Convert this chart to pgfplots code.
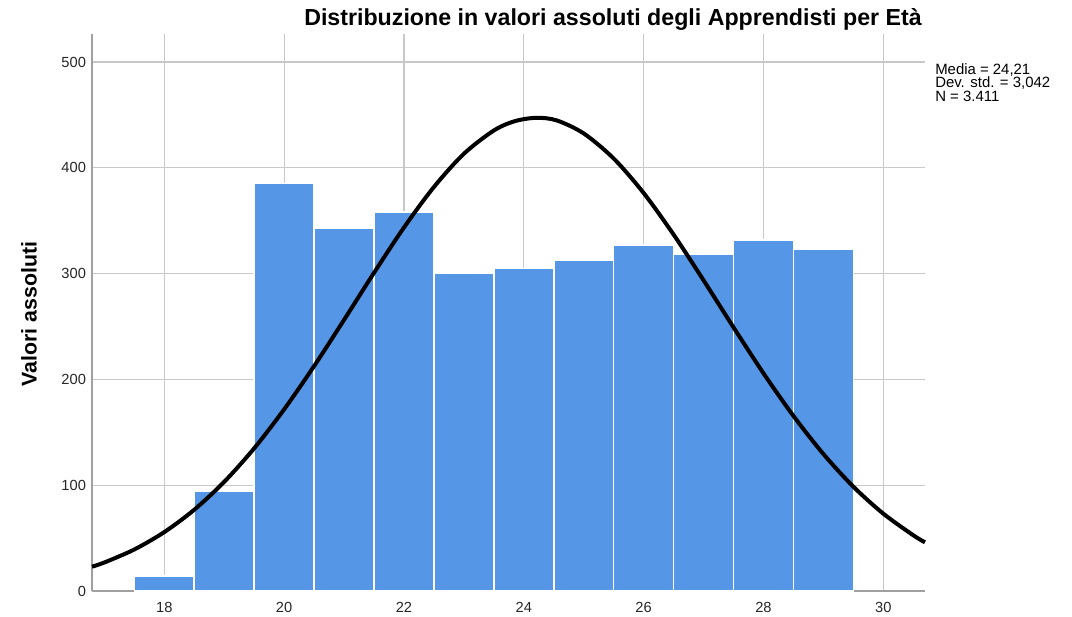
\documentclass[border=0pt]{standalone}
\usepackage{pgfplots}
\pgfplotsset{compat=1.18}
\usepackage{fontspec}
\setmainfont{Liberation Sans}
\definecolor{barblue}{RGB}{85,150,230}
\definecolor{gridgray}{RGB}{200,200,200}
\definecolor{axisgray}{RGB}{160,160,160}
\begin{document}
\begin{tikzpicture}
\path[use as bounding box] (-69pt,-19.5pt) rectangle (735pt,443.25pt);
\begin{axis}[
  at={(0,0)}, anchor=south west,
  scale only axis,
  width=624.75pt, height=417.75pt,
  xmin=16.793, xmax=30.696,
  ymin=0, ymax=526.5,
  xtick={18,20,...,30},
  ytick={0,100,...,500},
  grid=major,
  major grid style={gridgray, line width=0.8pt},
  axis x line*=bottom, axis y line*=left,
  axis line style={axisgray, line width=1.5pt, -},
  major tick length=0pt,
  /pgf/number format/assume math mode=true,
  ticklabel style={font=\fontsize{11}{13}\selectfont, text=black!85},
  xticklabel style={yshift=-5pt},
  yticklabel style={xshift=-1pt},
  every axis title shift=0pt,
  title={Distribuzione in valori assoluti degli Apprendisti per Età},
  title style={at={(0.9964,1.0144)}, anchor=base east, yshift=0pt, inner sep=0pt, font=\bfseries\fontsize{17.4}{20}\selectfont},
  ylabel={Valori assoluti},
  ylabel style={at={(-0.0756,0.4973)}, anchor=center, font=\bfseries\fontsize{16}{19}\selectfont},
  clip=false,
]
\addplot[ybar, bar width=1, fill=barblue, draw=white, line width=1.2pt]
  coordinates {(18,14) (19,94) (20,385) (21,343) (22,358) (23,300) (24,305) (25,313) (26,327) (27,318) (28,332) (29,323)};
\addplot[black, line width=3pt, smooth]
  coordinates {(16.793,23.0) (17,26.96) (17.5,39.26) (18,55.69) (18.5,76.82) (19,103.2) (19.5,134.9) (20,171.7) (20.5,212.6) (21,256.3) (21.5,300.8) (22,343.6) (22.5,381.9) (23,413.3) (23.5,435.3) (23.85,444.1) (24.21,447.3) (24.55,444.8) (25,432.5) (25.5,408.8) (26,376.2) (26.5,336.9) (27,293.7) (27.5,249.2) (28,205.8) (28.5,165.5) (29,129.5) (29.5,98.6) (30,73.1) (30.5,52.7) (30.696,46.0)};
\node[anchor=base west, inner sep=0pt, font=\fontsize{11.2}{13}\selectfont] at (axis description cs:1.012,0.9273) {Media = 24,21};
\node[anchor=base west, inner sep=0pt, font=\fontsize{11.2}{13}\selectfont] at (axis description cs:1.012,0.9031) {Dev. std. = 3,042};
\node[anchor=base west, inner sep=0pt, font=\fontsize{11.2}{13}\selectfont] at (axis description cs:1.012,0.8788) {N = 3.411};
\end{axis}
\end{tikzpicture}
\end{document}
